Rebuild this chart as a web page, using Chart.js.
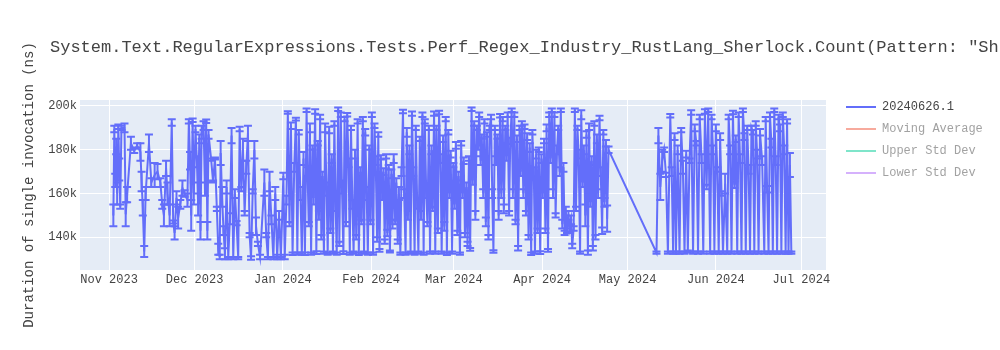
<!DOCTYPE html>
<html>
<head>
<meta charset="utf-8">
<title>Perf_Regex_Industry_RustLang_Sherlock</title>
<script src="https://cdn.jsdelivr.net/npm/chart.js@4.4.1/dist/chart.umd.min.js"></script>
<style>
    html, body { margin: 0; padding: 0; background: #fff; }
</style>
</head>
<body>
<canvas id="miGrafica" width="1000" height="350"></canvas>
<script>
//fechas de cada corrida (UTC, "YYYY-MM-DD HH")
let runDates = [
    // nov 2023
    '2023-11-02 12','2023-11-02 20','2023-11-03 04','2023-11-03 12','2023-11-03 20','2023-11-04 06','2023-11-04 14','2023-11-04 22','2023-11-05 08','2023-11-06 10',
    '2023-11-06 20','2023-11-07 08','2023-11-08 16','2023-11-09 20','2023-11-10 20','2023-11-12 00','2023-11-12 10','2023-11-12 20','2023-11-13 08','2023-11-13 20',
    '2023-11-15 00','2023-11-15 20','2023-11-17 00','2023-11-18 00','2023-11-19 00','2023-11-19 16','2023-11-20 06','2023-11-21 00','2023-11-21 12','2023-11-22 06',
    '2023-11-23 00','2023-11-23 12','2023-11-24 00','2023-11-24 16','2023-11-25 06','2023-11-26 00','2023-11-26 18','2023-11-27 12','2023-11-28 12','2023-11-29 00',
    '2023-11-29 10','2023-11-29 20','2023-11-30 08','2023-11-30 18',
    // dic 2023
    '2023-12-01 08','2023-12-01 20','2023-12-02 06','2023-12-02 16','2023-12-03 02','2023-12-03 12','2023-12-04 04','2023-12-04 16','2023-12-05 02','2023-12-05 12',
    '2023-12-05 22','2023-12-06 20','2023-12-07 12','2023-12-08 04','2023-12-08 20','2023-12-09 08','2023-12-09 20','2023-12-10 04','2023-12-10 16','2023-12-11 04',
    '2023-12-11 16','2023-12-12 06','2023-12-12 20','2023-12-13 10','2023-12-14 00','2023-12-14 14','2023-12-15 04','2023-12-15 18','2023-12-16 08','2023-12-16 20',
    '2023-12-17 10','2023-12-18 00','2023-12-18 14','2023-12-19 04','2023-12-19 18','2023-12-20 08','2023-12-20 20','2023-12-21 10','2023-12-22 00','2023-12-22 14',
    '2023-12-23 06','2023-12-24 00','2023-12-25 12','2023-12-26 04','2023-12-26 18','2023-12-27 08','2023-12-28 00','2023-12-28 16','2023-12-29 08','2023-12-30 00',
    '2023-12-30 16','2023-12-31 08',
    // ene 2024
    '2024-01-01 04','2024-01-01 16','2024-01-02 06','2024-01-02 18','2024-01-03 08','2024-01-03 20','2024-01-04 10','2024-01-05 00','2024-01-05 14','2024-01-06 02',
    '2024-01-06 14','2024-01-07 04','2024-01-07 16','2024-01-08 06','2024-01-08 18','2024-01-09 08','2024-01-09 16','2024-01-10 02','2024-01-10 12','2024-01-10 22',
    '2024-01-11 10','2024-01-11 20','2024-01-12 08','2024-01-12 18','2024-01-13 06','2024-01-13 16','2024-01-14 02','2024-01-14 12','2024-01-14 22','2024-01-15 10',
    '2024-01-15 20','2024-01-16 08','2024-01-16 18','2024-01-17 06','2024-01-17 16','2024-01-18 04','2024-01-18 14','2024-01-19 02','2024-01-19 12','2024-01-19 22',
    '2024-01-20 10','2024-01-20 20','2024-01-21 08','2024-01-21 18','2024-01-22 06','2024-01-22 16','2024-01-23 04','2024-01-23 14','2024-01-24 02','2024-01-24 12',
    '2024-01-24 22','2024-01-25 10','2024-01-25 20','2024-01-26 08','2024-01-26 18','2024-01-27 06','2024-01-27 16','2024-01-28 04','2024-01-28 14','2024-01-29 02',
    '2024-01-29 12','2024-01-29 22','2024-01-30 10','2024-01-30 20','2024-01-31 08','2024-01-31 18',
    // feb 2024
    '2024-02-01 06','2024-02-01 16','2024-02-02 04','2024-02-02 14','2024-02-03 02','2024-02-03 12','2024-02-03 22','2024-02-04 10','2024-02-04 20','2024-02-05 08',
    '2024-02-05 18','2024-02-06 06','2024-02-06 16','2024-02-07 04','2024-02-07 14','2024-02-08 02','2024-02-08 12','2024-02-08 22','2024-02-09 10','2024-02-09 20',
    '2024-02-10 08','2024-02-10 18','2024-02-11 06','2024-02-11 16','2024-02-12 04','2024-02-12 14','2024-02-13 02','2024-02-13 12','2024-02-13 22','2024-02-14 10',
    '2024-02-14 20','2024-02-15 08','2024-02-15 18','2024-02-16 06','2024-02-16 16','2024-02-17 04','2024-02-17 14','2024-02-18 02','2024-02-18 12','2024-02-19 00',
    '2024-02-19 10','2024-02-19 20','2024-02-20 08','2024-02-20 18','2024-02-21 06','2024-02-21 16','2024-02-22 04','2024-02-22 14','2024-02-23 02','2024-02-23 12',
    '2024-02-23 22','2024-02-24 10','2024-02-24 20','2024-02-25 08','2024-02-25 18','2024-02-26 06','2024-02-26 16','2024-02-27 04','2024-02-27 14','2024-02-28 02',
    '2024-02-28 12','2024-02-28 22','2024-02-29 10','2024-02-29 20',
    // mar 2024
    '2024-03-01 08','2024-03-01 18','2024-03-02 06','2024-03-02 16','2024-03-03 04','2024-03-03 14','2024-03-04 02','2024-03-04 12','2024-03-04 22','2024-03-05 10',
    '2024-03-05 20','2024-03-06 08','2024-03-06 18','2024-03-07 06','2024-03-07 16','2024-03-08 04','2024-03-08 14','2024-03-09 02','2024-03-09 12','2024-03-09 22',
    '2024-03-10 10','2024-03-10 20','2024-03-11 08','2024-03-11 18','2024-03-12 06','2024-03-12 16','2024-03-13 04','2024-03-13 14','2024-03-14 02','2024-03-14 12',
    '2024-03-14 22','2024-03-15 10','2024-03-15 20','2024-03-16 08','2024-03-16 18','2024-03-17 06','2024-03-17 16','2024-03-18 04','2024-03-18 14','2024-03-19 02',
    '2024-03-19 12','2024-03-19 22','2024-03-20 10','2024-03-20 20','2024-03-21 08','2024-03-21 18','2024-03-22 06','2024-03-22 16','2024-03-23 04','2024-03-23 14',
    '2024-03-24 02','2024-03-24 12','2024-03-24 22','2024-03-25 10','2024-03-25 20','2024-03-26 08','2024-03-26 18','2024-03-27 06','2024-03-27 16','2024-03-28 04',
    '2024-03-28 14','2024-03-29 02','2024-03-29 12','2024-03-29 22','2024-03-30 10','2024-03-30 20','2024-03-31 08','2024-03-31 18',
    // abr 2024
    '2024-04-01 06','2024-04-01 16','2024-04-02 04','2024-04-02 14','2024-04-03 02','2024-04-03 12','2024-04-03 22','2024-04-04 10','2024-04-04 20','2024-04-05 08',
    '2024-04-05 18','2024-04-06 06','2024-04-06 16','2024-04-07 04','2024-04-07 14','2024-04-08 02','2024-04-08 12','2024-04-08 22','2024-04-09 08','2024-04-09 18',
    '2024-04-10 06','2024-04-10 16','2024-04-11 04','2024-04-11 14','2024-04-12 02','2024-04-12 12','2024-04-12 22','2024-04-13 10','2024-04-13 20','2024-04-14 08',
    '2024-04-14 18','2024-04-15 06','2024-04-15 16','2024-04-16 04','2024-04-16 14','2024-04-17 02','2024-04-17 12','2024-04-17 22','2024-04-18 10','2024-04-18 20',
    '2024-04-19 08','2024-04-19 18','2024-04-20 06','2024-04-20 16','2024-04-21 04','2024-04-21 14','2024-04-22 02','2024-04-22 12','2024-04-22 22','2024-04-23 10',
    '2024-04-23 20','2024-04-24 08',
    // may 2024
    '2024-05-11 04','2024-05-11 20','2024-05-12 12','2024-05-13 04','2024-05-13 20','2024-05-14 12','2024-05-15 04','2024-05-16 00','2024-05-16 12','2024-05-17 00',
    '2024-05-17 12','2024-05-18 00','2024-05-18 14','2024-05-19 06','2024-05-19 20','2024-05-20 10','2024-05-21 00','2024-05-21 14','2024-05-22 04','2024-05-22 18',
    '2024-05-23 08','2024-05-24 00','2024-05-24 14','2024-05-25 04','2024-05-25 18','2024-05-26 08','2024-05-27 00','2024-05-27 14','2024-05-28 04','2024-05-28 18',
    '2024-05-29 08','2024-05-30 00','2024-05-30 12','2024-05-31 00','2024-05-31 12',
    // jun 2024
    '2024-06-01 00','2024-06-01 12','2024-06-02 00','2024-06-02 12','2024-06-03 00','2024-06-03 12','2024-06-04 06','2024-06-05 00','2024-06-05 12','2024-06-06 00',
    '2024-06-06 12','2024-06-07 00','2024-06-07 12','2024-06-08 00','2024-06-08 12','2024-06-09 00','2024-06-09 12','2024-06-10 00','2024-06-10 12','2024-06-11 00',
    '2024-06-11 12','2024-06-12 00','2024-06-12 12','2024-06-13 00','2024-06-13 12','2024-06-14 00','2024-06-14 12','2024-06-15 00','2024-06-15 12','2024-06-16 00',
    '2024-06-16 12','2024-06-17 06','2024-06-18 00','2024-06-18 12','2024-06-19 00','2024-06-19 12','2024-06-20 00','2024-06-20 12','2024-06-21 00','2024-06-21 12',
    '2024-06-22 00','2024-06-22 12','2024-06-23 00','2024-06-23 12','2024-06-24 00','2024-06-24 12','2024-06-25 00','2024-06-25 12','2024-06-26 00','2024-06-26 12',
    '2024-06-27 00','2024-06-27 12'
]

//duracion media en miles de ns (k)
let meanK = [
    // nov
    150, 189.5, 166, 181.5, 160, 190.5, 171, 154, 190, 190,
    150.5, 159.5, 183, 179.5, 182, 179, 165.5, 153.5, 133.5, 160,
    183, 165, 168.5, 170, 165, 155, 150, 171.5, 160, 150,
    192.5, 147, 142, 158, 149, 155, 162.5, 160, 157, 193,
    175, 150, 193.5, 160,
    // dic
    189.5, 174.5, 155, 185, 143, 188, 191, 162, 193, 143,
    187, 175.5, 165.5, 176, 153, 134.5, 131, 178.5, 158.5, 143,
    132.5, 163, 130.5, 148.5, 186.5, 130.5, 160, 146.5, 130.5, 189.5,
    162, 180, 151, 172, 187.5, 141, 130.5, 161, 180, 145,
    137, 131, 165, 141, 130.5, 165.5, 148, 130.5, 160, 131,
    150, 130.5,
    // ene
    168, 131, 157, 197, 146, 191, 132.5, 172, 194, 132.5,
    188, 160, 132.5, 176, 132.5, 198, 170, 146, 190, 132.5,
    181, 158, 197.5, 133, 183, 150, 195, 140, 168, 133,
    190, 162, 132.5, 189, 143, 176, 133, 192, 155, 132.5,
    198.5, 137, 196, 163, 133, 194, 146, 196, 174, 132.5,
    190, 155, 133, 178, 140, 193, 132.5, 170, 147, 194,
    133, 188, 160, 132.5, 181, 147,
    // feb
    196, 132.5, 191, 175, 139, 187, 134, 176.5, 160, 170,
    138, 177, 142, 172, 133.5, 169, 146, 176, 147, 165,
    138, 160, 132.5, 170, 197.5, 160, 132.5, 188, 150, 180,
    133, 196.5, 170, 132.5, 190, 155, 133, 185, 150, 196,
    132.5, 193, 160, 146, 190, 133, 180, 153, 196.5, 133,
    190, 143, 197, 176, 133, 185, 145, 194, 132.5, 188,
    160, 178, 133, 173,
    // mar
    155, 182, 142, 168, 132.5, 183, 160, 175, 141, 163,
    137, 176, 134.5, 198.5, 166, 192, 150, 190, 181, 196,
    175, 186, 160, 193, 147, 187, 140, 190, 195, 160,
    133.5, 190, 175, 186, 150, 195.5, 160, 194, 153, 190,
    177, 196, 151, 184, 198, 160, 196, 147, 185, 135,
    190, 170, 192, 160, 190.5, 151, 186, 140, 181, 132.5,
    188, 170, 133, 178, 143, 180, 133, 176,
    // abr
    160, 184, 143, 190, 134, 196, 176, 198, 160, 196,
    150, 180, 190, 170, 198, 146, 172, 142, 152, 143,
    150, 144, 148, 136, 144, 198, 153, 190, 178, 133,
    196, 165, 180, 150, 187, 133, 190.5, 156, 175, 135,
    192, 140, 185, 160, 194.5, 170, 143, 188, 156, 183,
    148.5, 180,
    // may
    133, 186.5, 163, 175, 180, 168.5, 133, 195.5, 170, 133,
    186, 133, 180, 133, 189, 172, 133, 178, 133.5, 175,
    197, 133, 190, 183, 133, 195, 176, 133, 197.5, 163,
    198, 133, 195, 180, 133,
    // jun
    190, 171, 133, 186, 160, 133, 164.5, 133, 195, 180,
    133, 197, 164, 185, 133, 196, 176, 133, 198, 186,
    133, 190, 171, 133, 190, 188, 133, 192, 178, 133,
    188, 175, 133, 194, 162, 133, 196, 183, 133, 198,
    175, 133, 195, 190, 133, 196, 180, 133, 193, 133,
    173, 133
]

//desviacion (barra de error) en k
let stdK = [
    // nov
    5, 1.5, 3, 3.5, 5, 1, 5, 1, 1, 2,
    5.5, 3.5, 3, 1, 1, 4, 4.5, 3.5, 2.5, 3,
    4, 2, 5.5, 3.5, 2, 2, 5, 3.5, 5, 5,
    1.5, 0.7, 3, 3, 5, 2, 3.5, 1.5, 3, 1,
    4, 7, 0.8, 5,
    // dic
    1.5, 2.5, 5, 2, 4, 3, 2, 3, 0.8, 4,
    2, 0.5, 0.5, 0.5, 1, 2.5, 1, 5.5, 4.5, 2,
    2.5, 3, 0.5, 2.5, 3.5, 0.5, 2, 1, 0.5, 1,
    1, 5, 1, 3, 3.5, 1, 0.8, 1, 4, 4,
    1, 1, 6, 1, 0.5, 4.5, 2, 0.5, 3, 1,
    2, 0.5,
    // ene
    1.5, 1, 2, 0.6, 1, 1.5, 0.6, 2, 0.6, 0.5,
    1, 3, 0.5, 3, 0.6, 0.8, 2, 1, 2, 0.5,
    1, 3, 1, 0.6, 1, 2, 1, 1, 2, 0.5,
    2, 3, 0.5, 1.5, 1, 2, 0.5, 1, 3, 0.5,
    0.8, 1, 1, 3, 0.6, 1, 1, 0.8, 2, 0.5,
    1, 2, 0.5, 2, 1, 1, 0.6, 2, 1, 1,
    0.5, 1.5, 3, 0.5, 1, 1,
    // feb
    1, 0.5, 1, 2, 1, 1, 0.6, 1, 3, 1.5,
    1, 1, 1.5, 1, 0.5, 2, 2, 2, 1, 2,
    1, 3, 0.5, 2, 0.8, 2, 0.5, 2, 2, 2,
    0.5, 1, 2, 0.5, 1, 2, 0.5, 1, 2, 1,
    0.5, 1, 2, 1, 1, 0.5, 2, 1, 1, 0.5,
    1, 1, 0.8, 2, 0.5, 1.5, 2, 1, 0.6, 1,
    2, 1.5, 0.5, 1,
    // mar
    2, 1.5, 1, 2, 0.5, 1, 2, 1.5, 1, 2,
    1, 1, 0.6, 0.8, 2, 1, 2, 1, 1, 1,
    2, 1, 2, 1, 2, 1, 1, 1, 1, 2,
    0.6, 1, 2, 1, 2, 0.8, 2, 1, 2, 1,
    2, 1, 1, 1.5, 0.8, 2, 1, 1, 1.5, 1,
    1, 2, 1, 2, 1, 1, 1.5, 1, 2, 0.6,
    1, 2, 0.5, 2, 1, 1, 0.6, 2,
    // abr
    2, 1, 1, 1.5, 0.6, 1, 2, 0.8, 2, 1,
    1, 2, 1, 2, 0.8, 2, 2, 1, 2, 1,
    2, 1.5, 2, 1, 1, 0.8, 1, 1, 2, 0.5,
    2, 2, 2, 5, 1.5, 1, 1.5, 2, 2, 1,
    1, 1, 2, 2, 1, 2, 1.5, 1, 2, 1.5,
    6, 1.5,
    // may
    0.5, 3.5, 6, 5, 1, 1, 0.5, 0.8, 2, 0.5,
    1.5, 0.5, 2, 0.5, 1, 3, 0.5, 1.5, 0.5, 1,
    1, 0.5, 1.5, 1, 0.5, 1, 2, 0.5, 1, 1,
    0.8, 0.5, 1, 2, 0.5,
    // jun
    1.5, 1, 0.5, 1.5, 1, 0.5, 4.5, 0.5, 1, 2,
    0.5, 0.8, 1.5, 1.5, 0.5, 1, 2, 0.5, 0.8, 1.5,
    0.5, 1, 2, 0.5, 1, 1, 0.5, 1, 2, 0.5,
    1.5, 2, 0.5, 1, 1.5, 0.5, 1, 2, 0.5, 0.8,
    2, 0.5, 1, 1.5, 0.5, 1, 2, 0.5, 1, 0.5,
    5.5, 0.5
]

//series de la leyenda (las tres ultimas estan ocultas)
let seriesNames = ['20240626.1', 'Moving Average', 'Upper Std Dev', 'Lower Std Dev']
let seriesColors = ['#636efa', '#EF553B', '#00cc96', '#ab63fa']
let seriesHidden = [false, true, true, true]

//ticks del eje x
let monthTicks = ['2023-11-01', '2023-12-01', '2024-01-01', '2024-02-01', '2024-03-01', '2024-04-01', '2024-05-01', '2024-06-01', '2024-07-01']
let monthLabels = ['Nov 2023', 'Dec 2023', 'Jan 2024', 'Feb 2024', 'Mar 2024', 'Apr 2024', 'May 2024', 'Jun 2024', 'Jul 2024']
let yTicksK = [140, 160, 180, 200]

let titulo = 'System.Text.RegularExpressions.Tests.Perf_Regex_Industry_RustLang_Sherlock.Count(Pattern: "Sh'
let tituloY = 'Duration of single invocation (ns)'

const FUENTE = "'Courier New', 'Liberation Mono', monospace"

function aTiempo(s) {
    let partes = s.split(' ')
    let f = partes[0].split('-').map(Number)
    let h = partes.length > 1 ? Number(partes[1]) : 0
    return Date.UTC(f[0], f[1] - 1, f[2], h)
}

if (runDates.length !== meanK.length || meanK.length !== stdK.length) {
    console.log('largos distintos', runDates.length, meanK.length, stdK.length)
}

let puntos = runDates.map((d, i) => ({ x: aTiempo(d), y: meanK[i] }))

//fondo del area de la grafica
const fondo = {
    id: 'fondo',
    beforeDraw(chart) {
        let a = chart.chartArea
        let c = chart.ctx
        c.save()
        c.fillStyle = '#E5ECF6'
        c.fillRect(a.left, a.top, a.right - a.left, a.bottom - a.top)
        c.restore()
    }
}

//barras de error con tapas
const barrasError = {
    id: 'barrasError',
    beforeDatasetsDraw(chart) {
        let meta = chart.getDatasetMeta(0)
        let ys = chart.scales.y
        let a = chart.chartArea
        let c = chart.ctx
        c.save()
        c.beginPath()
        c.rect(a.left, a.top, a.right - a.left, a.bottom - a.top)
        c.clip()
        c.strokeStyle = seriesColors[0]
        c.lineWidth = 2
        meta.data.forEach((p, i) => {
            let arriba = ys.getPixelForValue(meanK[i] + stdK[i])
            let abajo = ys.getPixelForValue(meanK[i] - stdK[i])
            c.beginPath()
            c.moveTo(p.x, arriba); c.lineTo(p.x, abajo)
            c.moveTo(p.x - 4, arriba); c.lineTo(p.x + 4, arriba)
            c.moveTo(p.x - 4, abajo); c.lineTo(p.x + 4, abajo)
            c.stroke()
        })
        c.restore()
    }
}

//titulo y leyenda a la manera de plotly
const textos = {
    id: 'textos',
    afterDraw(chart) {
        let c = chart.ctx
        let a = chart.chartArea
        c.save()
        c.fillStyle = '#444'
        c.font = '17px ' + FUENTE
        c.textBaseline = 'middle'
        c.fillText(titulo, 50, 47)

        chart.data.datasets.forEach((ds, i) => {
            let yy = 107 + i * 22
            c.globalAlpha = ds.hidden ? 0.5 : 1
            c.strokeStyle = ds.borderColor
            c.lineWidth = 2
            c.beginPath()
            c.moveTo(a.right + 20, yy)
            c.lineTo(a.right + 50, yy)
            c.stroke()
            c.fillStyle = '#444'
            c.font = '12px ' + FUENTE
            c.fillText(ds.label, a.right + 56, yy)
        })
        c.restore()
    }
}

let miCanvas = document.getElementById('miGrafica').getContext('2d')

let chart = new Chart(miCanvas, {
    type: 'line',
    data: {
        datasets: seriesNames.map((n, i) => ({
            label: n,
            data: i === 0 ? puntos : [],
            borderColor: seriesColors[i],
            backgroundColor: seriesColors[i],
            borderWidth: 2,
            pointRadius: 0,
            tension: 0,
            hidden: seriesHidden[i]
        }))
    },
    options: {
        responsive: false,
        animation: false,
        events: [],
        layout: { padding: { top: 100, right: 174, bottom: 0, left: 0 } },
        scales: {
            x: {
                type: 'linear',
                min: Date.UTC(2023, 9, 21, 19),
                max: Date.UTC(2024, 6, 9, 16),
                afterBuildTicks: (eje) => {
                    eje.ticks = monthTicks.map(d => ({ value: aTiempo(d) }))
                },
                afterFit: (eje) => { eje.height = 80 },
                ticks: {
                    autoSkip: false,
                    maxRotation: 0,
                    padding: 3,
                    color: '#444',
                    font: { family: FUENTE, size: 12 },
                    callback: (v, i) => monthLabels[i]
                },
                grid: { color: '#fff', lineWidth: 1, drawTicks: false },
                border: { display: false }
            },
            y: {
                min: 125.06,
                max: 202.74,
                afterBuildTicks: (eje) => {
                    eje.ticks = yTicksK.map(v => ({ value: v }))
                },
                afterFit: (eje) => { eje.width = 80 },
                ticks: {
                    padding: 3,
                    color: '#444',
                    font: { family: FUENTE, size: 12 },
                    callback: (v) => v + 'k'
                },
                grid: { color: '#fff', lineWidth: 1, drawTicks: false },
                border: { display: false },
                title: {
                    display: true,
                    text: tituloY,
                    color: '#444',
                    font: { family: FUENTE, size: 14 },
                    padding: { top: 21, bottom: 0 }
                }
            }
        },
        plugins: {
            legend: { display: false },
            tooltip: { enabled: false }
        }
    },
    plugins: [fondo, barrasError, textos]
})
</script>
</body>
</html>
